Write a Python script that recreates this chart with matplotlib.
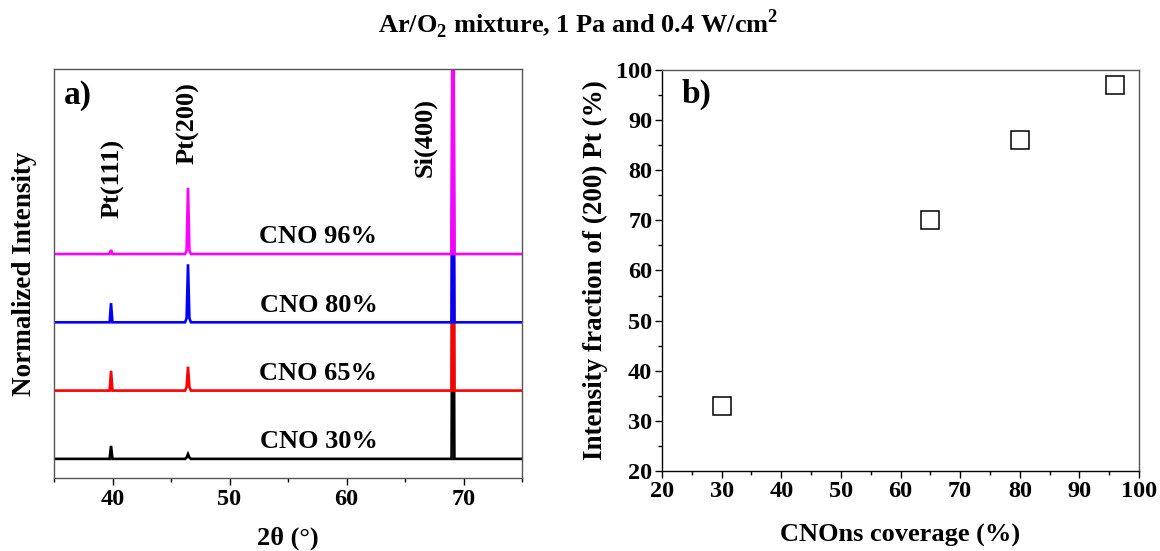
import numpy as np
import matplotlib
matplotlib.use('Agg')
import matplotlib.pyplot as plt
from matplotlib.ticker import MultipleLocator

plt.rcParams['font.family'] = ['Liberation Serif', 'DejaVu Serif']
plt.rcParams['font.weight'] = 'bold'
plt.rcParams['mathtext.fontset'] = 'custom'
plt.rcParams['mathtext.rm'] = 'Liberation Serif:bold'
plt.rcParams['mathtext.bf'] = 'Liberation Serif:bold'

# --- panel a) XRD patterns (peak heights, normalized units)
two_theta = [35, 39.75, 39.87, 39.99, 46.2, 46.33, 46.45, 46.57, 46.7, 68.98, 69.1, 69.22, 75]
samples = ['CNO 30%', 'CNO 65%', 'CNO 80%', 'CNO 96%']
colors = ['black', 'red', 'blue', 'magenta']
offsets = [0, 1, 2, 3]
int_30 = [0, 0, 0.19, 0, 0, 0.02, 0.07, 0.02, 0, 0, 6, 0, 0]
int_65 = [0, 0, 0.29, 0, 0, 0.05, 0.35, 0.05, 0, 0, 6, 0, 0]
int_80 = [0, 0, 0.28, 0, 0, 0.06, 0.85, 0.06, 0, 0, 6, 0, 0]
int_96 = [0, 0, 0.06, 0, 0, 0.05, 0.97, 0.05, 0, 0, 6, 0, 0]
intensities = [int_30, int_65, int_80, int_96]

peak_names = ['Pt(111)', 'Pt(200)', 'Si(400)']
peak_pos = [40.0, 46.45, 66.7]
peak_label_y = [4.11, 4.92, 4.71]

# --- panel b) fraction of (200) Pt
coverage = [30, 65, 80, 96]
fraction_200 = [33, 70, 86, 97]

fig = plt.figure(figsize=(11.6, 5.51), dpi=100)
ax1 = fig.add_axes([0.0466, 0.1325, 0.4034, 0.7423])
ax2 = fig.add_axes([0.5707, 0.1452, 0.4112, 0.7278])

for name, col, off, inten in zip(samples, colors, offsets, intensities):
    y = np.array(inten) + off
    ax1.plot(two_theta, y, color=col, lw=1.9, solid_joinstyle='miter')
    ax1.text(57.6, off + 0.25, name, ha='center', va='center', fontsize=19, fontweight='bold')

for name, x, y in zip(peak_names, peak_pos, peak_label_y):
    ax1.text(x, y, name, rotation=90, ha='center', va='center', fontsize=19, fontweight='bold')

ax1.set_xlim(35, 75)
ax1.set_ylim(-0.28, 5.71)
ax1.set_yticks([])
ax1.xaxis.set_major_locator(MultipleLocator(10))
ax1.xaxis.set_minor_locator(MultipleLocator(5))
ax1.tick_params(axis='x', which='major', direction='out', length=5, width=1, labelsize=17.5, pad=3)
ax1.tick_params(axis='x', which='minor', direction='out', length=3, width=1)
for s in ax1.spines.values():
    s.set_color('#555555')
    s.set_linewidth(1)
ax1.set_xlabel('2θ (°)', fontsize=19, fontweight='bold', labelpad=12)
ax1.set_ylabel('Normalized Intensity', fontsize=19.5, fontweight='bold', labelpad=12)
ax1.text(0.051, 0.934, 'a)', transform=ax1.transAxes, ha='center', va='center', fontsize=24, fontweight='bold')

ax2.plot(coverage, fraction_200, ls='none', marker='s', ms=13, mfc='white', mec='black', mew=1.1)
ax2.set_xlim(20, 100)
ax2.set_ylim(20, 100)
ax2.xaxis.set_major_locator(MultipleLocator(10))
ax2.xaxis.set_minor_locator(MultipleLocator(5))
ax2.yaxis.set_major_locator(MultipleLocator(10))
ax2.yaxis.set_minor_locator(MultipleLocator(5))
ax2.tick_params(which='major', direction='out', length=5, width=1, labelsize=17.5, pad=2)
ax2.tick_params(which='minor', direction='out', length=3, width=1)
for side in ['top', 'right']:
    ax2.spines[side].set_color('#555555')
for s in ax2.spines.values():
    s.set_linewidth(1)
ax2.set_xlabel('CNOns coverage (%)', fontsize=19, fontweight='bold', labelpad=16)
ax2.set_ylabel('Intensity fraction of (200) Pt (%)', fontsize=19.5, fontweight='bold', labelpad=6)
ax2.text(0.073, 0.938, 'b)', transform=ax2.transAxes, ha='center', va='center', fontsize=24, fontweight='bold')

for ax in (ax1, ax2):
    for lab in ax.get_xticklabels() + ax.get_yticklabels():
        lab.set_fontweight('bold')

fig.text(0.498, 0.955, r'Ar/O$_\mathregular{2}$ mixture, 1 Pa and 0.4 W/cm$^\mathregular{2}$',
         ha='center', va='center', fontsize=19, fontweight='bold')

fig.savefig('out.png', dpi=100)
